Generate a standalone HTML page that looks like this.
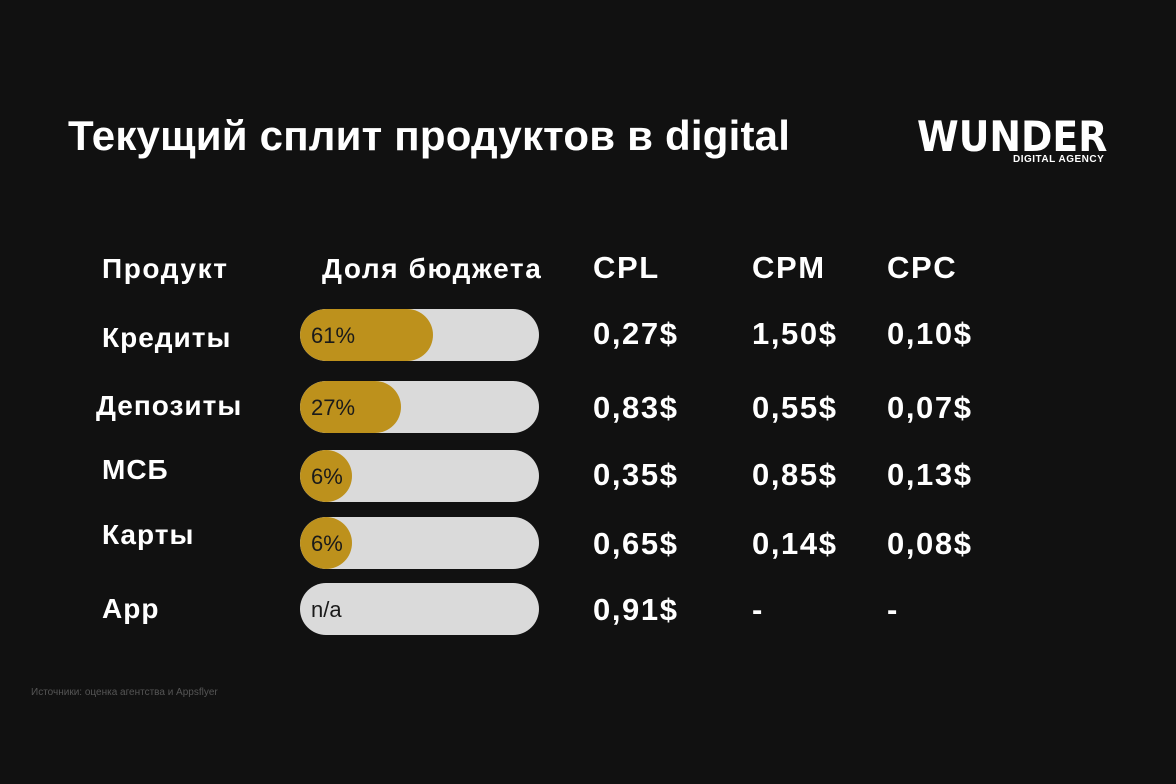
<!DOCTYPE html>
<html><head><meta charset="utf-8"><style>
body{margin:0;width:1176px;height:784px;background:#111111;overflow:hidden;position:relative;font-family:"Liberation Sans","DejaVu Sans",sans-serif;color:#fff}
.t{position:absolute;white-space:nowrap;font-weight:bold}
.h{font-size:28px;letter-spacing:1.6px}
.r{font-size:28px;letter-spacing:1px}
.v{font-size:31px;letter-spacing:1.6px}
.bar{position:absolute;left:300px;width:239px;height:52px;border-radius:26px;background:#dadada;overflow:hidden}
.fill{position:absolute;left:0;top:0;height:52px;border-radius:26px;background:#bd911c}
.lab{position:absolute;left:11px;top:14px;font-size:22px;color:#1a1a1a;font-weight:normal}
</style></head><body>
<div class="t" style="left:68px;top:112px;font-size:42px;letter-spacing:0.2px">Текущий сплит продуктов в digital</div>
<div class="t" style="left:917px;top:112px;font-size:42px;font-family:'DejaVu Sans Condensed','Liberation Sans',sans-serif">WUNDER</div>
<div class="t" style="left:1013px;top:154px;font-size:10px;letter-spacing:0.5px">DIGITAL AGENCY</div>

<div class="t h" style="left:102px;top:253px">Продукт</div>
<div class="t h" style="left:322px;top:253px">Доля бюджета</div>
<div class="t v" style="left:593px;top:250px">CPL</div>
<div class="t v" style="left:752px;top:250px">CPM</div>
<div class="t v" style="left:887px;top:250px">CPC</div>

<div class="t r" style="left:102px;top:322px">Кредиты</div>
<div class="t r" style="left:96px;top:390px">Депозиты</div>
<div class="t r" style="left:102px;top:454px">МСБ</div>
<div class="t r" style="left:102px;top:519px">Карты</div>
<div class="t r" style="left:102px;top:593px">App</div>

<div class="bar" style="top:309px"><div class="fill" style="width:133px"></div><div class="lab">61%</div></div>
<div class="bar" style="top:381px"><div class="fill" style="width:101px"></div><div class="lab">27%</div></div>
<div class="bar" style="top:450px"><div class="fill" style="width:52px"></div><div class="lab">6%</div></div>
<div class="bar" style="top:517px"><div class="fill" style="width:52px"></div><div class="lab">6%</div></div>
<div class="bar" style="top:583px"><div class="lab">n/a</div></div>

<div class="t v" style="left:593px;top:316px">0,27$</div>
<div class="t v" style="left:752px;top:316px">1,50$</div>
<div class="t v" style="left:887px;top:316px">0,10$</div>
<div class="t v" style="left:593px;top:390px">0,83$</div>
<div class="t v" style="left:752px;top:390px">0,55$</div>
<div class="t v" style="left:887px;top:390px">0,07$</div>
<div class="t v" style="left:593px;top:457px">0,35$</div>
<div class="t v" style="left:752px;top:457px">0,85$</div>
<div class="t v" style="left:887px;top:457px">0,13$</div>
<div class="t v" style="left:593px;top:526px">0,65$</div>
<div class="t v" style="left:752px;top:526px">0,14$</div>
<div class="t v" style="left:887px;top:526px">0,08$</div>
<div class="t v" style="left:593px;top:592px">0,91$</div>
<div class="t v" style="left:752px;top:592px">-</div>
<div class="t v" style="left:887px;top:592px">-</div>

<div style="position:absolute;left:31px;top:687px;font-size:10px;color:#555">Источники: оценка агентства и Appsflyer</div>
</body></html>
